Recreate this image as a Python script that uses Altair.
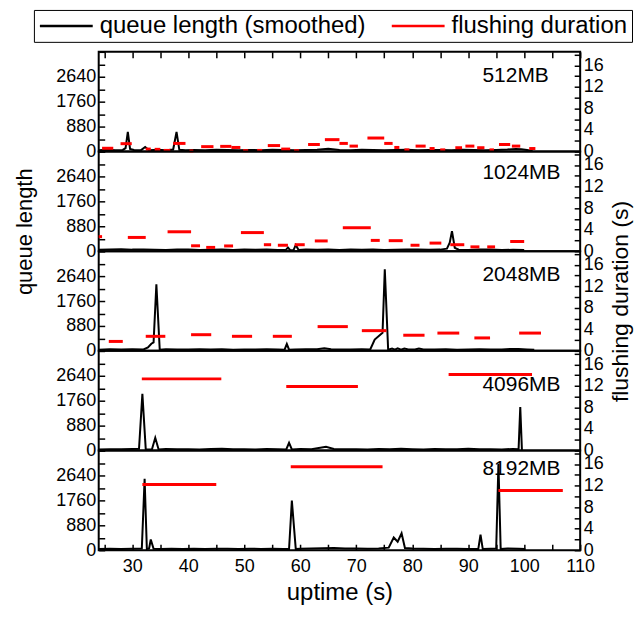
import altair as alt
import pandas as pd

FONT = "Liberation Sans"
PANELS = ["512MB", "1024MB", "2048MB", "4096MB", "8192MB"]
SERIES = ["queue length (smoothed)", "flushing duration"]
X_TICKS = list(range(25, 111, 5))
Q_TICKS = list(range(0, 3521, 440))
F_TICKS = list(range(0, 19, 2))

# ---- queue length (smoothed): uptime (s) / queue length ----
q512_t = [24, 25.5, 27, 28.3, 28.8, 29.2, 29.6, 30.3, 31.5, 32.3, 33.0, 34.5, 36, 37.3, 37.9, 38.4,
          39.5, 41, 43, 45, 47, 49, 51, 53, 55, 57, 59, 61, 63, 65, 67, 69, 71, 73, 75, 77, 79, 81,
          83, 85, 87, 89, 91, 93, 95, 97, 98.5, 99.5, 100.5, 101.5]
q512_v = [40, 60, 45, 55, 120, 690, 90, 50, 40, 160, 45, 60, 40, 70, 690, 60,
          40, 55, 45, 60, 50, 40, 55, 45, 60, 50, 45, 55, 60, 100, 50, 45, 60, 50, 40, 55, 60, 45,
          50, 55, 40, 60, 50, 45, 55, 70, 90, 80, 50, 20]

q1024_t = [24, 26, 28, 30, 32, 34, 36, 38, 40, 42, 44, 46, 48, 50, 52, 54, 56, 57.4, 57.8, 58.2,
           58.8, 59.2, 59.7, 61, 63, 65, 67, 69, 71, 73, 75, 77, 79, 81, 83, 85, 86.2, 86.7, 87.1,
           87.6, 88.3, 90, 92, 94, 96, 98, 100]
q1024_v = [50, 60, 70, 55, 60, 50, 45, 60, 55, 40, 50, 60, 45, 55, 50, 60, 45, 40, 130, 35,
           40, 220, 40, 55, 50, 60, 45, 55, 50, 60, 45, 50, 55, 60, 50, 55, 90, 300, 710,
           120, 50, 45, 55, 60, 40, 50, 45]

q2048_t = [24, 26, 28, 30, 32, 32.8, 33.4, 33.8, 34.3, 34.9, 36, 38, 40, 42, 44, 46, 48, 50, 52,
           54, 56, 57.2, 57.6, 58.0, 59, 61, 63, 64.3, 65.5, 67, 69, 71, 72.5, 73.3, 74.7, 75.1,
           75.7, 76.4, 76.9, 77.4, 78.0, 78.6, 79.3, 80.5, 81.2, 82, 84, 86, 88, 90, 92, 94, 96,
           97.5, 99, 100.5, 101.8]
q2048_v = [40, 55, 45, 60, 50, 120, 250, 300, 2350, 40, 55, 45, 50, 60, 45, 55, 40, 50, 45,
           55, 50, 40, 240, 40, 50, 55, 60, 90, 60, 50, 45, 55, 50, 400, 640, 2880,
           40, 80, 40, 90, 40, 85, 50, 45, 80, 50, 45, 55, 40, 50, 60, 45, 50,
           70, 65, 50, 40]

q4096_t = [24, 26, 28, 30, 31.2, 31.8, 32.4, 33.5, 34.1, 34.7, 36, 38, 40, 42, 44, 46, 48, 50,
           52, 54, 56, 57.5, 58.0, 58.5, 60, 62, 64.6, 66, 68, 70, 72, 74, 76, 78, 80, 82, 84,
           86, 88, 90, 92, 94, 96, 98, 99.0, 99.3, 99.6]
q4096_v = [40, 50, 45, 55, 60, 2000, 50, 40, 450, 40, 55, 45, 50, 40, 55, 60, 45, 50,
           40, 55, 50, 40, 270, 40, 55, 45, 130, 55, 45, 50, 40, 55, 45, 60, 50, 40, 55,
           45, 50, 60, 45, 50, 40, 55, 50, 1540, 0]

q8192_t = [24, 26, 28, 30, 31.7, 32.2, 32.6, 33.0, 33.3, 33.8, 35, 37, 39, 41, 43, 45, 47, 49,
           51, 53, 55, 57, 58.0, 58.5, 59.2, 60, 62, 64, 66, 68, 70, 72, 74, 75.8, 76.7, 77.4,
           78.1, 78.7, 80, 82, 84, 86, 88, 90, 91.8, 92.2, 92.6, 94, 95.0, 95.4, 95.8, 97, 99,
           100.2]
q8192_v = [40, 55, 45, 50, 60, 2520, 40, 60, 380, 50, 45, 55, 40, 50, 45, 55, 50, 40,
           55, 45, 50, 45, 40, 1750, 40, 55, 60, 70, 75, 65, 60, 55, 60, 90, 450, 300,
           600, 80, 60, 50, 45, 55, 50, 45, 40, 550, 40, 50, 60, 3050, 40, 60, 50,
           40]

# ---- flushing duration: segment start / end (uptime, s) and duration (s) ----
f512_start = [24.6, 27.9, 32.4, 34.0, 35.6, 37.3, 40.2, 42.3, 45.7, 47.7, 49.8, 52.3, 54.2, 56.6,
              58.9, 61.4, 64.4, 67.0, 68.8, 72.0, 75.0, 76.8, 78.6, 80.6, 83.1, 85.0, 87.7, 89.5,
              91.6, 93.8, 95.5, 97.8, 100.9]
f512_end = [26.6, 29.9, 33.3, 35.0, 36.8, 39.5, 40.9, 44.5, 47.7, 49.3, 50.7, 53.2, 56.4, 58.2,
            59.8, 63.5, 67.0, 68.5, 70.3, 75.0, 76.5, 77.7, 79.5, 82.4, 84.0, 85.9, 88.9, 91.1,
            92.9, 94.6, 97.5, 99.3, 102.0]
f512_dur = [0.6, 1.45, 0.45, 0.4, 0.2, 1.5, 0.1, 0.9, 0.95, 0.75, 0.15, 0.2, 1.1, 0.45,
            0.15, 1.3, 2.2, 1.5, 1.0, 2.5, 1.5, 0.75, 0.3, 1.0, 0.55, 0.3, 0.7, 1.0,
            0.7, 0.3, 1.3, 1.0, 0.55]

f1024_start = [24.0, 29.2, 36.3, 40.5, 43.2, 46.4, 49.4, 53.5, 56.0, 59.0, 62.6, 67.6, 72.6, 75.8,
               79.7, 83.1, 86.8, 90.4, 93.4, 97.5]
f1024_end = [24.6, 32.4, 40.5, 42.1, 44.8, 48.0, 53.5, 54.8, 57.8, 60.8, 64.9, 72.6, 74.2, 78.3,
             81.3, 85.2, 89.3, 92.0, 94.8, 100.0]
f1024_dur = [2.7, 2.55, 3.6, 1.0, 0.7, 0.97, 3.45, 1.2, 1.1, 1.2, 1.9, 4.35, 2.0, 1.95,
             1.1, 1.5, 1.2, 0.8, 0.8, 1.8]

f2048_start = [25.8, 32.4, 40.5, 47.8, 55.1, 63.1, 71.0, 78.4, 84.5, 91.1, 99.1]
f2048_end = [28.3, 35.9, 44.1, 51.4, 58.5, 68.5, 75.4, 82.2, 88.4, 93.9, 103.0]
f2048_dur = [1.75, 2.7, 3.0, 2.7, 2.7, 4.5, 3.75, 2.9, 3.3, 2.4, 3.3]

f4096_start = [31.7, 57.5, 86.5]
f4096_end = [45.9, 70.3, 101.4]
f4096_dur = [13.3, 11.9, 14.1]

f8192_start = [31.8, 58.3, 95.4]
f8192_end = [45.0, 74.7, 106.9]
f8192_dur = [12.2, 15.5, 11.1]

queue_t = [q512_t, q1024_t, q2048_t, q4096_t, q8192_t]
queue_v = [q512_v, q1024_v, q2048_v, q4096_v, q8192_v]
flush_start = [f512_start, f1024_start, f2048_start, f4096_start, f8192_start]
flush_end = [f512_end, f1024_end, f2048_end, f4096_end, f8192_end]
flush_dur = [f512_dur, f1024_dur, f2048_dur, f4096_dur, f8192_dur]

W, H = 483, 100
LABEL_Y = [30, 28, 30, 40, 25]
TICK = 6

color_scale = alt.Scale(domain=SERIES, range=["black", "#ff0000"])
legend = alt.Legend(
    orient="none", legendX=-65, legendY=-42, direction="horizontal", title=None,
    symbolType="M-1,0L4.3,0", symbolSize=400, symbolStrokeWidth=2.5,
    labelFont=FONT, labelFontSize=24, labelColor="black", labelLimit=600,
    labelOffset=38, columnPadding=21, padding=4,
    strokeColor="black", fillColor="white",
)


def x_axis_for(i):
    if i == 4:
        return alt.Axis(orient="bottom", values=X_TICKS,
                        labelExpr="datum.value % 10 == 0 ? datum.label : ''",
                        offset=-TICK, tickSize=TICK, domain=False, labelPadding=7,
                        labelFlush=False, labelOverlap=False,
                        title="uptime (s)", titlePadding=5, titleFontSize=24)
    if i == 0:
        return alt.Axis(orient="top", values=X_TICKS, labels=False,
                        offset=-TICK, tickSize=TICK, domain=False, title=None)
    return None


def panel(i):
    qdf = pd.DataFrame({"uptime": queue_t[i], "queue": queue_v[i], "series": SERIES[0]})
    fdf = pd.DataFrame({"start": flush_start[i], "end": flush_end[i],
                        "duration": flush_dur[i], "series": SERIES[1]})
    ldf = pd.DataFrame({"name": [PANELS[i]]})
    xscale = alt.Scale(domain=[24, 110], nice=False, zero=False)
    xaxis = x_axis_for(i)

    left_kw = dict(values=Q_TICKS, format="d",
                   labelExpr="datum.value % 880 == 0 && datum.value < 3000 ? datum.label : ''",
                   offset=-TICK, tickSize=TICK, domain=False, labelPadding=3,
                   labelOverlap=False, labelFlush=False)
    if i == 1:
        left_axis = alt.Axis(title="queue length", titleAngle=270, titleX=-68, titleY=80,
                             **left_kw)
    else:
        left_axis = alt.Axis(title=None, **left_kw)

    right_kw = dict(orient="right", values=F_TICKS,
                    labelExpr="datum.value % 4 == 0 && datum.value <= 16 ? datum.label : ''",
                    offset=-TICK, tickSize=TICK, domain=False, labelPadding=3,
                    labelOverlap=False, labelFlush=False)
    if i == 2:
        right_axis = alt.Axis(title="flushing duration (s)", titleAngle=270,
                              titleBaseline="top", titlePadding=6, titleFontSize=23,
                              **right_kw)
    else:
        right_axis = alt.Axis(title=None, **right_kw)

    leg = legend if i == 0 else None

    line = alt.Chart(qdf).mark_line(strokeWidth=2).encode(
        x=alt.X("uptime:Q", scale=xscale, axis=xaxis),
        y=alt.Y("queue:Q", scale=alt.Scale(domain=[0, 3520], nice=False), axis=left_axis),
        color=alt.Color("series:N", scale=color_scale, legend=leg),
    )
    rules = alt.Chart(fdf).mark_rule(strokeWidth=3).encode(
        x=alt.X("start:Q", scale=xscale, axis=xaxis),
        x2="end:Q",
        y=alt.Y("duration:Q", scale=alt.Scale(domain=[0, 18.5], nice=False), axis=right_axis),
        color=alt.Color("series:N", scale=color_scale, legend=leg),
    )
    label = alt.Chart(ldf).mark_text(align="left", baseline="alphabetic", fontSize=21,
                                     font=FONT, color="black").encode(
        x=alt.value(385), y=alt.value(LABEL_Y[i]), text="name:N"
    )
    return alt.layer(line, rules, label).resolve_scale(y="independent").properties(
        width=W, height=H)


chart = alt.vconcat(*[panel(i) for i in range(5)], spacing=0, bounds="flush").resolve_scale(
    color="shared"
).properties(
    padding={"left": 5, "right": 0, "top": 0, "bottom": 0},
).configure_view(
    stroke="black", strokeWidth=2
).configure_axis(
    labelFont=FONT, titleFont=FONT, labelColor="black", titleColor="black",
    tickColor="black", tickWidth=1.5, labelFontSize=18, titleFontSize=22,
    titleFontWeight="normal", grid=False
)

chart.save("out.html", embed_options={"renderer": "svg", "actions": False})
